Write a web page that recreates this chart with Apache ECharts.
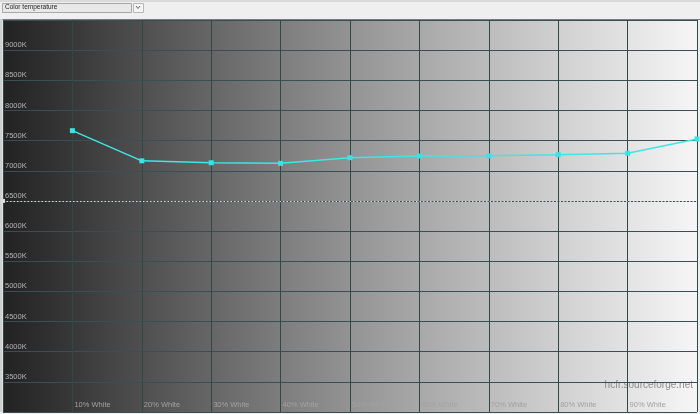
<!DOCTYPE html>
<html>
<head>
<meta charset="utf-8">
<script src="https://cdn.jsdelivr.net/npm/echarts@6/dist/echarts.min.js"></script>
<style>
  html, body { margin: 0; padding: 0; background: #f0f0f0; }
  #chart-container { width: 700px; height: 414px; }
</style>
</head>
<body>
<div id="chart-container"></div>
<script>
var dom = document.getElementById('chart-container');
var myChart = echarts.init(dom, null, { renderer: 'canvas' });

// grey levels measured (% white) and the colour temperature read at each
const levels = [10, 20, 30, 40, 50, 60, 70, 80, 90, 100];
const colorTemp = [7665, 7165, 7133, 7123, 7217, 7245, 7248, 7267, 7290, 7528];
const xTickLabels = ['10% White', '20% White', '30% White', '40% White', '50% White',
    '60% White', '70% White', '80% White', '90% White'];
const refTemp = 6500;

const gridColor = '#304848';
const labelColor = '#a2a2a2';
const font = 'Liberation Sans';

var option = {
    animation: false,
    graphic: [
        // top toolbar strip with the curve selector
        { type: 'rect', left: 0, top: 0, shape: { width: 700, height: 19 },
          style: { fill: '#efefef' } },
        { type: 'line', shape: { x1: 0, y1: 1, x2: 700, y2: 1 },
          style: { stroke: '#c4c4c4', lineWidth: 1 } },
        { type: 'rect', left: 2, top: 3, shape: { width: 129, height: 9 },
          style: { fill: '#e8e8e8', stroke: '#a8a8a8', lineWidth: 1 } },
        { type: 'text', left: 5, top: 4,
          style: { text: 'Color temperature', fill: '#222', font: '6.5px ' + font } },
        { type: 'rect', left: 133, top: 3, shape: { width: 10, height: 9 },
          style: { fill: '#f4f4f4', stroke: '#b8b8b8', lineWidth: 1 } },
        { type: 'polyline', shape: { points: [[136, 6], [138, 8.5], [140, 6]] },
          style: { stroke: '#666', lineWidth: 1, fill: null } },
        { type: 'line', shape: { x1: 0, y1: 19.5, x2: 700, y2: 19.5 },
          style: { stroke: '#7a7a7a', lineWidth: 1 } },
        // window frame
        { type: 'rect', left: 0, top: 19, shape: { width: 2.5, height: 395 },
          style: { fill: '#cfcfcf' } },
        { type: 'rect', left: 0, top: 412, shape: { width: 700, height: 2 },
          style: { fill: '#eeeeee' } },
        // watermark
        { type: 'text', right: 7, top: 380,
          style: { text: 'hcfr.sourceforge.net', fill: '#8c8c8c', font: '10px ' + font } }
    ],
    grid: {
        left: 3,
        right: 2,
        top: 20,
        bottom: 2,
        show: true,
        borderWidth: 0,
        backgroundColor: {
            type: 'linear', x: 0, y: 0, x2: 1, y2: 0,
            colorStops: [
                { offset: 0, color: '#222222' },
                { offset: 0.1, color: '#383838' },
                { offset: 0.2, color: '#4f4f4f' },
                { offset: 0.3, color: '#666666' },
                { offset: 0.4, color: '#7d7d7d' },
                { offset: 0.5, color: '#939393' },
                { offset: 0.6, color: '#a8a8a8' },
                { offset: 0.7, color: '#bcbcbc' },
                { offset: 0.8, color: '#d0d0d0' },
                { offset: 0.9, color: '#e3e3e3' },
                { offset: 1, color: '#f6f6f6' }
            ]
        }
    },
    xAxis: {
        type: 'value',
        min: 0,
        max: 100,
        interval: 10,
        axisLine: { show: false },
        axisTick: { show: false },
        splitLine: { show: true, lineStyle: { color: gridColor, width: 1 } },
        axisLabel: {
            inside: true,
            margin: 3,
            align: 'left',
            verticalAlign: 'bottom',
            padding: [0, 0, 0, 2],
            color: labelColor,
            fontFamily: font,
            fontSize: 7.5,
            formatter: function (v) {
                return xTickLabels[v / 10 - 1] || '';
            }
        }
    },
    yAxis: {
        type: 'value',
        min: 3000,
        max: 9500,
        interval: 500,
        axisLine: { show: false },
        axisTick: { show: false },
        splitLine: { show: true, lineStyle: { color: '#3a5050', width: 1 } },
        axisLabel: {
            inside: true,
            margin: 2,
            verticalAlign: 'bottom',
            padding: [0, 0, 1, 0],
            color: '#b4b4b4',
            fontFamily: font,
            fontSize: 7.5,
            formatter: function (v) {
                return (v === 3000 || v === 9500) ? '' : v + 'K';
            }
        }
    },
    series: [
        {
            name: 'Color temperature',
            type: 'line',
            data: levels.map(function (x, i) { return [x, colorTemp[i]]; }),
            symbol: 'rect',
            symbolSize: 5,
            color: '#3ee6e6',
            lineStyle: { color: '#3ee6e6', width: 1.5 },
            itemStyle: { color: '#2ee8e8' },
            markLine: {
                silent: true,
                symbol: ['rect', 'none'],
                symbolSize: 4,
                label: { show: false },
                lineStyle: { color: '#dcdcdc', type: [1.5, 2], width: 1 },
                data: [{ yAxis: refTemp }]
            }
        }
    ]
};

myChart.setOption(option);
window.addEventListener('resize', myChart.resize);
</script>
</body>
</html>
